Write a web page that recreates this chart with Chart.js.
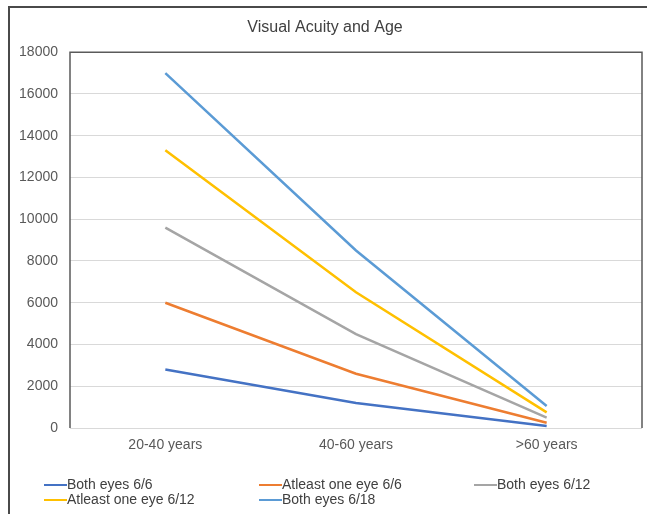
<!DOCTYPE html>
<html><head><meta charset="utf-8">
<script src="https://cdn.jsdelivr.net/npm/chart.js@4"></script>
<style>
html,body{margin:0;padding:0;background:#fff;}
#wrap{position:relative;width:647px;height:514px;overflow:hidden;font-family:"Liberation Sans",Arial,sans-serif;}
#frame{position:absolute;left:8px;top:6px;right:-10px;bottom:-10px;border-left:2px solid #4a4a4a;border-top:2px solid #4a4a4a;pointer-events:none;}
canvas{position:absolute;left:0;top:0;}
.lg{position:absolute;font-size:14px;color:#404040;line-height:15px;white-space:nowrap;}
.lg i{display:inline-block;width:23px;height:2px;vertical-align:middle;}
</style></head>
<body>
<div id="wrap">
<canvas id="c" width="647" height="514"></canvas>
<div id="frame"></div>
</div>
<script>
const categories = ['20-40 years', '40-60 years', '>60 years'];
const bothEyes66 = [2800, 1200, 100];
const atleastOneEye66 = [6000, 2600, 250];
const bothEyes612 = [9600, 4500, 500];
const atleastOneEye612 = [13300, 6500, 750];
const bothEyes618 = [17000, 8500, 1050];
const seriesNames = ['Both eyes 6/6', 'Atleast one eye 6/6', 'Both eyes 6/12', 'Atleast one eye 6/12', 'Both eyes 6/18'];
const yTicks = [0, 2000, 4000, 6000, 8000, 10000, 12000, 14000, 16000, 18000];

const colors = ['#4472C4', '#ED7D31', '#A5A5A5', '#FFC000', '#5B9BD5'];
const values = [bothEyes66, atleastOneEye66, bothEyes612, atleastOneEye612, bothEyes618];

const frame = {
  id: 'frame',
  beforeDatasetsDraw(chart) {
    const a = chart.chartArea, ctx = chart.ctx;
    ctx.save();
    ctx.strokeStyle = '#5a5a5a';
    ctx.lineWidth = 1.5;
    ctx.beginPath();
    ctx.moveTo(a.left, a.bottom);
    ctx.lineTo(a.left, a.top);
    ctx.lineTo(a.right, a.top);
    ctx.lineTo(a.right, a.bottom);
    ctx.stroke();
    ctx.restore();
  }
};

const chart = new Chart(document.getElementById('c'), {
  type: 'line',
  data: {
    labels: categories,
    datasets: values.map((v, i) => ({
      label: seriesNames[i],
      data: v,
      borderColor: colors[i],
      backgroundColor: colors[i],
      borderWidth: 2.5,
      pointRadius: 0,
      tension: 0,
      fill: false
    }))
  },
  options: {
    responsive: false,
    animation: false,
    layout: { padding: { left: 8, right: 5, top: 8, bottom: 50 } },
    plugins: {
      legend: { display: false },
      tooltip: { enabled: false },
      title: {
        display: true,
        text: 'Visual Acuity and Age',
        color: '#404040',
        font: { family: '"Liberation Sans", Arial, sans-serif', size: 16, weight: 'normal' },
        padding: { top: 10, bottom: 15 }
      }
    },
    scales: {
      x: {
        offset: true,
        grid: { display: false, drawTicks: false },
        border: { display: false },
        ticks: { color: '#595959', padding: 9, font: { family: '"Liberation Sans", Arial, sans-serif', size: 14 } },
        afterFit(s) { s.height = 36; }
      },
      y: {
        min: 0, max: 18000,
        afterBuildTicks(s) { s.ticks = yTicks.map(v => ({ value: v })); },
        grid: { color: '#d9d9d9', lineWidth: 1, drawTicks: false },
        border: { display: false },
        ticks: {
          color: '#595959', padding: 12,
          font: { family: '"Liberation Sans", Arial, sans-serif', size: 14 },
          callback: (v) => String(v)
        },
        afterFit(s) { s.width = 62; }
      }
    }
  },
  plugins: [frame]
});

// HTML legend
const wrap = document.getElementById('wrap');
const lgPos = [[44, 476.5], [259, 476.5], [474, 476.5], [44, 491.5], [259, 491.5]];
chart.data.datasets.forEach((ds, i) => {
  const d = document.createElement('div');
  d.className = 'lg';
  d.style.left = lgPos[i][0] + 'px';
  d.style.top = lgPos[i][1] + 'px';
  const m = document.createElement('i');
  m.style.background = ds.borderColor;
  d.appendChild(m);
  d.appendChild(document.createTextNode(ds.label));
  wrap.appendChild(d);
});
</script>
</body></html>
